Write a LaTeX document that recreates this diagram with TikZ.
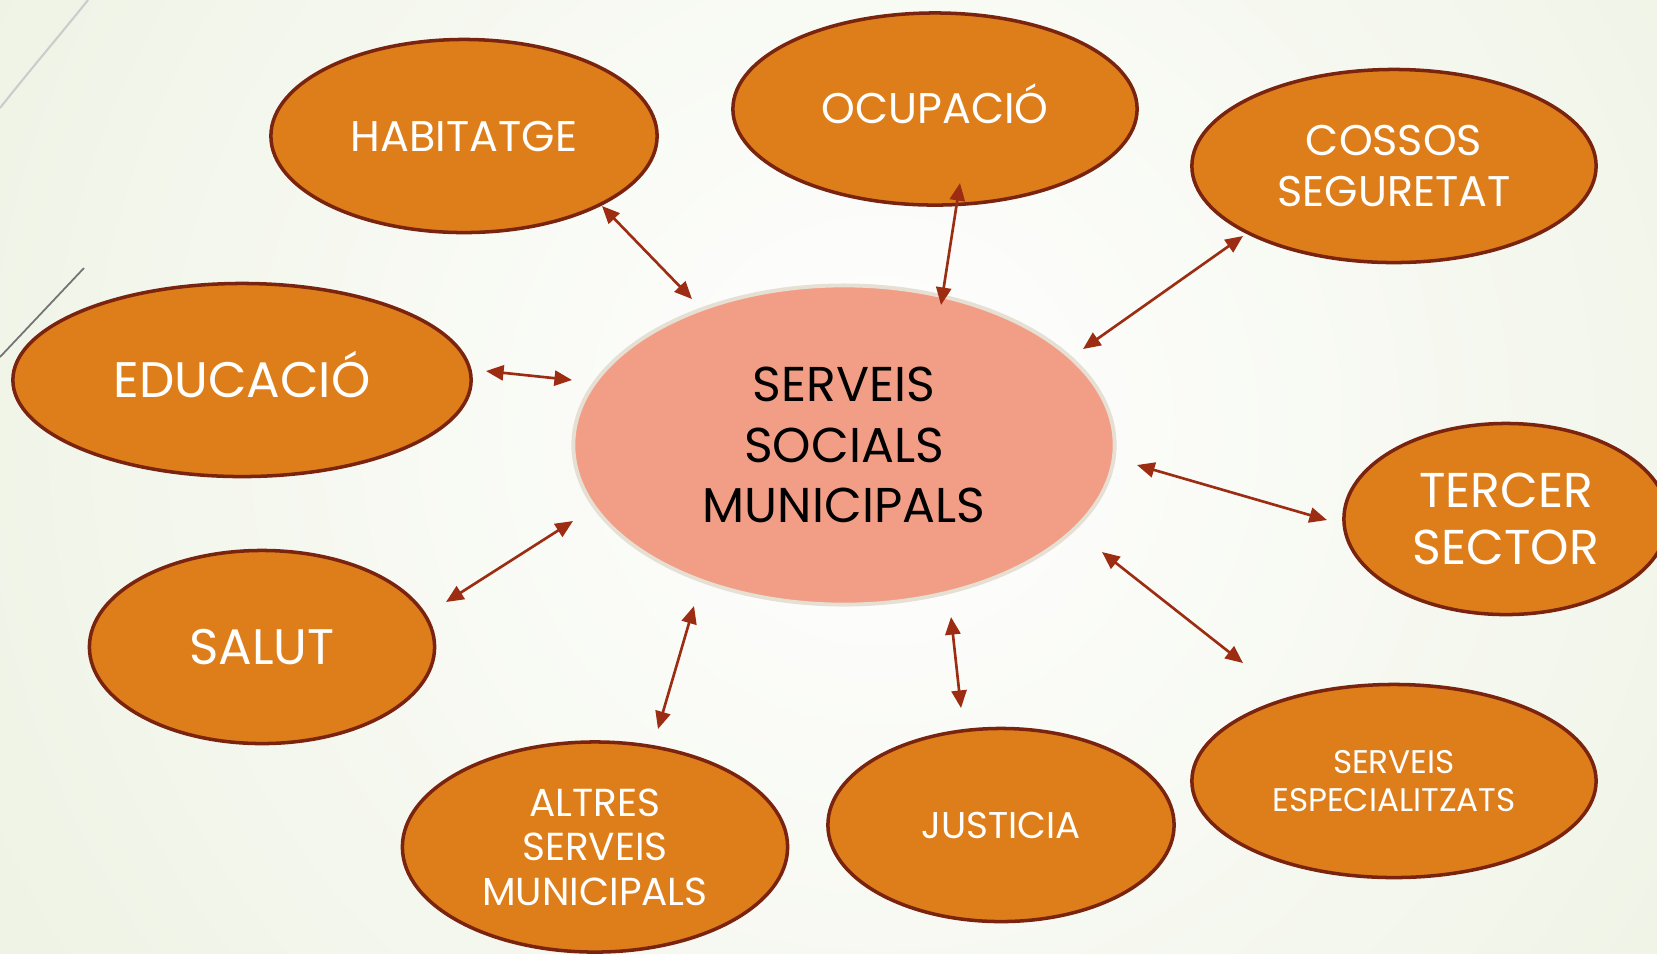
\documentclass[tikz,border=0pt]{standalone}
\usepackage{fontspec}
\setmainfont{Poppins}
\usetikzlibrary{arrows.meta,shapes.geometric}

\definecolor{bggreen}{HTML}{E1E9CF}
\definecolor{orangefill}{HTML}{DE7E1A}
\definecolor{orangeline}{HTML}{7A2410}
\definecolor{salmonfill}{HTML}{F29E86}
\definecolor{salmonline}{HTML}{E6E0D4}
\definecolor{linkred}{HTML}{9C2C12}

\tikzset{
    satellite/.style={ellipse, draw=orangeline, fill=orangefill, line width=1pt,
        text=white, align=center, inner sep=0pt},
    hub/.style={ellipse, draw=salmonline, fill=salmonfill, line width=1.1pt,
        text=black, align=center, inner sep=0pt},
    capsonly/.style={text height=#1, text depth=0pt},
    link/.style={draw=linkred, line width=0.75pt,
        {Triangle[length=5pt,width=4.3pt]}-{Triangle[length=5pt,width=4.3pt]}}
}

\begin{document}
\begin{tikzpicture}[x=0.01cm, y=-0.01cm]
            \useasboundingbox (0,0) rectangle (1657,953);
            \begin{scope}
                \clip (0,0) rectangle (1657,953);
                \shade[inner color=white, outer color=bggreen] (880,430) circle (1850);
                % decorative lines
                \draw[color=black!20, line width=0.6pt] (0,108) .. controls (30,70) and (60,35) .. (88,0);
                \draw[color=black!55, line width=0.5pt] (0,357) -- (84,268);

                \node[hub, minimum width=5.41cm, minimum height=3.19cm,
                    font=\fontsize{13.9}{17.2}\selectfont] (ssm) at (844,445)
                    {SERVEIS\\SOCIALS\\MUNICIPALS};

                \node[satellite, minimum width=3.86cm, minimum height=1.93cm,
                    font=\fontsize{12.2}{15}\selectfont] (hab) at (464,136) {HABITATGE};
                \node[satellite, capsonly=8.5pt, minimum width=4.04cm, minimum height=1.92cm,
                    font=\fontsize{12.2}{15}\selectfont] (ocu) at (935,109) {OCUPACIÓ};
                \node[satellite, minimum width=4.04cm, minimum height=1.93cm,
                    font=\fontsize{12.2}{14.5}\selectfont] (cos) at (1394,166) {COSSOS\\SEGURETAT};
                \node[satellite, capsonly=9.9pt, minimum width=4.58cm, minimum height=1.93cm,
                    font=\fontsize{14.2}{17}\selectfont] (edu) at (242,380) {EDUCACIÓ};
                \node[satellite, minimum width=3.24cm, minimum height=1.91cm,
                    font=\fontsize{13.9}{16.3}\selectfont] (ter) at (1506,519) {TERCER\\SECTOR};
                \node[satellite, minimum width=3.45cm, minimum height=1.93cm,
                    font=\fontsize{14.2}{17}\selectfont] (sal) at (262,647) {SALUT};
                \node[satellite, minimum width=3.85cm, minimum height=2.10cm,
                    font=\fontsize{11.1}{12.7}\selectfont] (alt) at (595,847) {ALTRES\\SERVEIS\\MUNICIPALS};
                \node[satellite, minimum width=3.46cm, minimum height=1.93cm,
                    font=\fontsize{10.6}{14}\selectfont] (jus) at (1001,825) {JUSTICIA};
                \node[satellite, minimum width=4.04cm, minimum height=1.93cm,
                    font=\fontsize{9.3}{10.9}\selectfont] (esp) at (1394,781) {SERVEIS\\ESPECIALITZATS};
            \end{scope}

            % arrow ends
            \coordinate (hab1) at (602,206);  \coordinate (hab2) at (692,299);
            \coordinate (ocu1) at (960,183);  \coordinate (ocu2) at (941,305);
            \coordinate (cos1) at (1243,236); \coordinate (cos2) at (1083,349);
            \coordinate (edu1) at (486,371);  \coordinate (edu2) at (572,380);
            \coordinate (ter1) at (1137,465); \coordinate (ter2) at (1327,520);
            \coordinate (sal1) at (446,602);  \coordinate (sal2) at (573,521);
            \coordinate (alt1) at (694,606);  \coordinate (alt2) at (658,729);
            \coordinate (jus1) at (951,617);  \coordinate (jus2) at (961,708);
            \coordinate (esp1) at (1102,552); \coordinate (esp2) at (1243,663);

            \draw[link] (hab1) -- (hab2);
            \draw[link] (ocu1) -- (ocu2);
            \draw[link] (cos1) -- (cos2);
            \draw[link] (edu1) -- (edu2);
            \draw[link] (ter1) -- (ter2);
            \draw[link] (sal1) -- (sal2);
            \draw[link] (alt1) -- (alt2);
            \draw[link] (jus1) -- (jus2);
            \draw[link] (esp1) -- (esp2);
        \end{tikzpicture}
\end{document}
